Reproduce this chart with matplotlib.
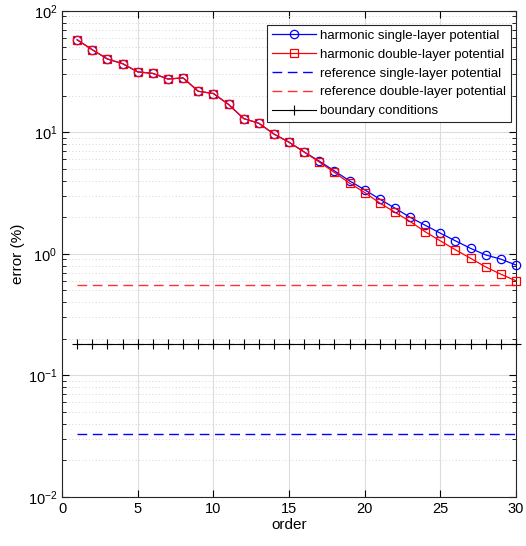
import numpy as np
import matplotlib
matplotlib.use('Agg')
import matplotlib.pyplot as plt
from matplotlib.ticker import LogLocator, NullFormatter

plt.rcParams['font.family'] = ['Liberation Sans', 'DejaVu Sans']
plt.rcParams['mathtext.fontset'] = 'custom'
plt.rcParams['mathtext.rm'] = 'Liberation Sans'
plt.rcParams['mathtext.default'] = 'regular'

order = np.arange(1, 31)
single_layer = [57.8, 47.9, 40.2, 36.8, 31.5, 30.6, 27.5, 28.1, 21.8, 20.9,
                17.0, 13.0, 11.9, 9.7, 8.3, 6.9, 5.8, 4.82, 3.99, 3.37,
                2.82, 2.38, 2.0, 1.72, 1.48, 1.28, 1.11, 0.98, 0.905, 0.81]
double_layer = [57.8, 47.9, 40.2, 36.8, 31.5, 30.6, 27.5, 28.1, 21.8, 20.9,
                17.0, 13.0, 11.9, 9.7, 8.3, 6.9, 5.7, 4.68, 3.82, 3.2,
                2.62, 2.2, 1.85, 1.52, 1.28, 1.08, 0.92, 0.78, 0.68, 0.60]
ref_single = 0.0328
ref_double = 0.557
boundary = 0.18

fig = plt.figure(figsize=(5.26, 5.46), dpi=100)
ax = fig.add_axes([0.118, 0.09, 0.863, 0.89])

ax.semilogy(order, single_layer, '-o', color='blue', lw=0.9, ms=6, mfc='none', mew=0.9,
            label='harmonic single-layer potential', clip_on=False, zorder=4)
ax.semilogy(order, double_layer, '-s', color='#ff0000', lw=0.9, ms=6, mfc='none', mew=0.9,
            label='harmonic double-layer potential', clip_on=False, zorder=5)
ax.semilogy(order, [ref_single] * len(order), '--', color='blue', lw=1.0, dashes=(7, 4),
            label='reference single-layer potential', clip_on=False, zorder=3)
ax.semilogy(order, [ref_double] * len(order), '--', color='#ff3030', lw=1.0, dashes=(7, 4),
            label='reference double-layer potential', clip_on=False, zorder=3)
ax.semilogy(order, [boundary] * len(order), '-+', color='black', lw=0.8, ms=7, mew=0.8,
            label='boundary conditions', clip_on=False, zorder=3)

ax.set_xlim(0, 30)
ax.set_ylim(1e-2, 1e2)
ax.set_xticks([0, 5, 10, 15, 20, 25, 30])
ax.yaxis.set_minor_locator(LogLocator(base=10, subs=np.arange(2, 10)))
ax.yaxis.set_minor_formatter(NullFormatter())

ax.grid(True, which='major', color='#dcdcdc', lw=0.8, ls='-')
ax.grid(True, which='minor', axis='y', color='#c8c8c8', lw=0.6, ls=(0, (1, 3)))
ax.set_axisbelow(True)
ax.tick_params(which='both', direction='in', top=True, right=True, labelsize=10.5)
ax.tick_params(which='major', length=5)
ax.tick_params(which='minor', length=3)
for s in ax.spines.values():
    s.set_linewidth(0.8)
    s.set_color('#262626')

ax.set_xlabel('order', fontsize=11, labelpad=2)
ax.set_ylabel('error (%)', fontsize=11, labelpad=2)

leg = ax.legend(loc='upper right', bbox_to_anchor=(0.989, 0.971), borderaxespad=0,
                fontsize=9.5, fancybox=False, framealpha=1, edgecolor='#262626',
                handlelength=3.4, labelspacing=0.5, borderpad=0.35, handletextpad=0.3)
leg.get_frame().set_linewidth(0.8)

fig.savefig('out.png', dpi=100)
